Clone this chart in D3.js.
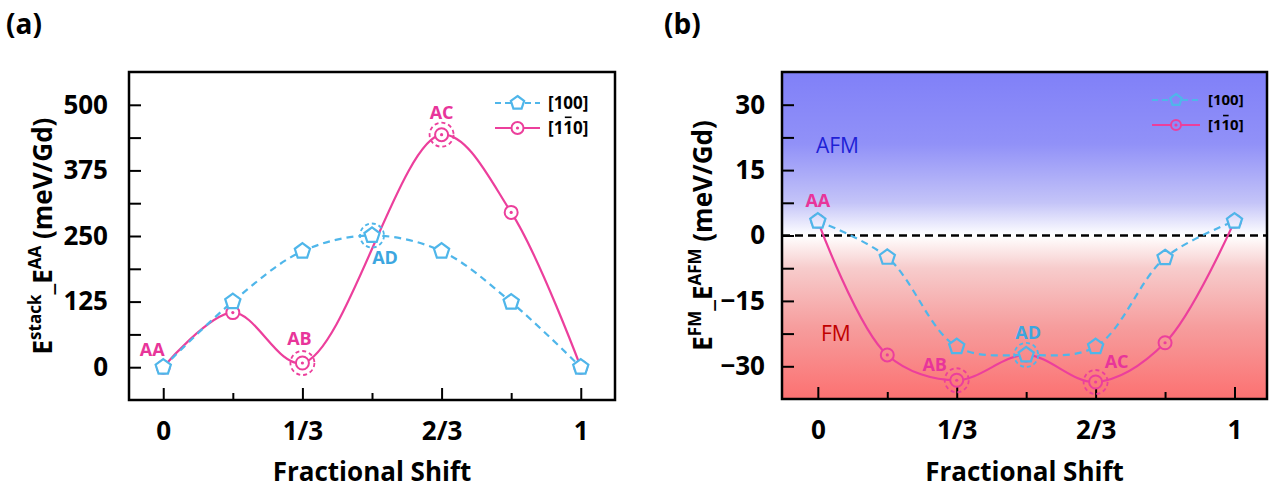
<!DOCTYPE html>
<html>
<head>
<meta charset="utf-8">
<script src="https://cdn.jsdelivr.net/npm/d3@7"></script>
<style>
  body { margin: 0; background: #fff; }
  svg { display: block; font-family: "Open Sans", sans-serif; }
</style>
</head>
<body>
<svg id="chart" width="1274" height="488"></svg>
<script>
// fractional shift positions and tick labels
const fracs = [0, 1/6, 1/3, 1/2, 2/3, 5/6, 1];
const xTickVals = [0, 1/3, 2/3, 1];
const xTickLabels = ["0", "1/3", "2/3", "1"];
const xMinorVals = [1/6, 1/2, 5/6];

// (a) stacking energy, meV/Gd  (no [1-10] point at 1/2)
const stack100 = [0, 125, 221, 251, 221, 124, 0];
const stack1m10 = [0, 104, 8, null, 443, 295, 0];
const stackTicks = [0, 125, 250, 375, 500];

// (b) E_FM - E_AFM, meV/Gd
const mag100 = [3.3, -5, -25.5, -27.4, -25.5, -5.1, 3.3];
const mag1m10 = [3.3, -27.4, -33.2, -27.4, -33.6, -24.6, 3.3];
const magTicks = [30, 15, 0, -15, -30];

const seriesNames = ["[100]", "[110]"]; // middle "1" of the second one gets a bar

const BLUE = "#4fb6ea", PINK = "#ec3f9c", PINK_TXT = "#e8359a", BLUE_TXT = "#3ca6e0";

const svg = d3.select("#chart");
const defs = svg.append("defs");

const grad = defs.append("linearGradient").attr("id", "bgGrad")
  .attr("gradientUnits", "userSpaceOnUse")
  .attr("x1", 0).attr("x2", 0).attr("y1", 72).attr("y2", 399);
[["0%", "#8080f8"], ["22%", "#9191f8"], ["40%", "#c4c4f8"], ["50%", "#ffffff"],
 ["60%", "#f7cccc"], ["78%", "#f69d9d"], ["100%", "#fc7171"]]
  .forEach(s => grad.append("stop").attr("offset", s[0]).attr("stop-color", s[1]));

// pentagon in absolute coords so a userSpace gradient fill lines up
function pentagon(cx, cy, r) {
  const pts = d3.range(5).map(k => {
    const a = -Math.PI / 2 + k * 2 * Math.PI / 5;
    return [cx + r * Math.cos(a), cy + r * Math.sin(a)];
  });
  return "M" + pts.join("L") + "Z";
}

function drawMarker(g, kind, x, y, fill, r) {
  if (kind === "pent") {
    g.append("path").attr("d", pentagon(x, y, r || 8))
      .attr("fill", fill).attr("stroke", BLUE).attr("stroke-width", 2.2);
  } else {
    g.append("circle").attr("cx", x).attr("cy", y).attr("r", r || 6.5)
      .attr("fill", fill).attr("stroke", PINK).attr("stroke-width", 2);
    g.append("circle").attr("cx", x).attr("cy", y).attr("r", 1.6).attr("fill", PINK);
  }
}

function panel(opt) {
  const g = svg.append("g");
  const x = d3.scaleLinear().domain(opt.xDomain).range([opt.x0, opt.x1]);
  const y = d3.scaleLinear().domain(opt.yDomain).range([opt.y1, opt.y0]);

  g.append("rect").attr("x", opt.x0).attr("y", opt.y0)
    .attr("width", opt.x1 - opt.x0).attr("height", opt.y1 - opt.y0)
    .attr("fill", opt.bg);

  if (opt.zeroLine) {
    g.append("line").attr("x1", opt.x0).attr("x2", opt.x1)
      .attr("y1", y(0)).attr("y2", y(0))
      .attr("stroke", "#000").attr("stroke-width", 2.5).attr("stroke-dasharray", "8,5");
  }

  opt.regionText.forEach(t => {
    g.append("text").attr("x", t.x).attr("y", y(t.v)).attr("dy", "0.35em")
      .attr("font-size", 21).attr("fill", t.color).text(t.text);
  });

  // axes
  const yMinor = d3.range(opt.yDomain[0], opt.yDomain[1] + 1e-9, opt.yStep / 2)
    .filter(v => v > opt.yDomain[0] + 1e-6 && v < opt.yDomain[1] - 1e-6);
  const ya = g.append("g").attr("transform", `translate(${opt.x0},0)`)
    .call(d3.axisLeft(y).tickValues(yMinor).tickSize(-12).tickFormat(""));
  ya.select(".domain").remove();
  ya.selectAll("line").attr("stroke-width", 2);
  const yl = g.append("g").attr("transform", `translate(${opt.x0},0)`)
    .call(d3.axisLeft(y).tickValues(opt.yTicks).tickSize(0).tickPadding(opt.yPad).tickFormat(d3.format("d")));
  yl.select(".domain").remove();
  yl.selectAll("text").attr("font-size", 26).attr("font-weight", "bold").attr("fill", "#000")
    .attr("font-family", "Open Sans");

  const xa = g.append("g").attr("transform", `translate(0,${opt.y1})`)
    .call(d3.axisBottom(x).tickValues(xTickVals).tickSize(-12).tickPadding(22)
      .tickFormat((d, i) => xTickLabels[i]));
  xa.select(".domain").remove();
  xa.selectAll("line").attr("stroke-width", 2);
  xa.selectAll("text").attr("font-size", 26).attr("font-weight", "bold").attr("fill", "#000")
    .attr("font-family", "Open Sans");
  const xm = g.append("g").attr("transform", `translate(0,${opt.y1})`)
    .call(d3.axisBottom(x).tickValues(xMinorVals).tickSize(-7).tickFormat(""));
  xm.select(".domain").remove();
  xm.selectAll("line").attr("stroke-width", 2);

  // curves
  const line = d3.line().x(d => x(d.f)).y(d => y(d.v)).curve(d3.curveCatmullRom.alpha(0.5));
  const pts = arr => fracs.map((f, i) => ({ f: f, v: arr[i] })).filter(d => d.v != null);
  const pinkPts = pts(opt.pink), bluePts = pts(opt.blue);

  g.append("path").attr("d", line(pinkPts)).attr("fill", "none")
    .attr("stroke", PINK).attr("stroke-width", 2.2);
  g.append("path").attr("d", line(bluePts)).attr("fill", "none")
    .attr("stroke", BLUE).attr("stroke-width", 2.2).attr("stroke-dasharray", "7,5");

  pinkPts.forEach(d => drawMarker(g, "circ", x(d.f), y(d.v), opt.markerFill));
  bluePts.forEach(d => drawMarker(g, "pent", x(d.f), y(d.v), opt.markerFill));

  // highlighted sites
  opt.sites.forEach(s => {
    const arr = s.blue ? opt.blue : opt.pink;
    const px = x(fracs[s.i]), py = y(arr[s.i]);
    if (s.ring) {
      g.append("circle").attr("cx", px).attr("cy", py).attr("r", 12)
        .attr("fill", "none").attr("stroke", s.blue ? BLUE : PINK)
        .attr("stroke-width", 1.8).attr("stroke-dasharray", "4,3");
    }
    g.append("text").attr("x", px + s.dx).attr("y", py + s.dy).attr("dy", "0.35em")
      .attr("text-anchor", "middle").attr("font-size", 18).attr("font-weight", "bold")
      .attr("fill", s.blue ? BLUE_TXT : PINK_TXT).text(s.name);
  });

  g.append("rect").attr("x", opt.x0).attr("y", opt.y0)
    .attr("width", opt.x1 - opt.x0).attr("height", opt.y1 - opt.y0)
    .attr("fill", "none").attr("stroke", "#000").attr("stroke-width", 2.5);

  // legend
  const L = opt.legend;
  seriesNames.forEach((name, k) => {
    const ly = L.y + k * L.gap;
    const isBlue = k === 0;
    g.append("line").attr("x1", L.x).attr("x2", L.x + L.len).attr("y1", ly).attr("y2", ly)
      .attr("stroke", isBlue ? BLUE : PINK).attr("stroke-width", 2.2)
      .attr("stroke-dasharray", isBlue ? "6,4" : null);
    drawMarker(g, isBlue ? "pent" : "circ", L.x + L.len / 2, ly, opt.markerFill, isBlue ? L.r + 1 : L.r);
    const t = g.append("text").attr("x", L.x + L.len + 8).attr("y", ly).attr("dy", "0.35em")
      .attr("font-size", L.fs).attr("font-weight", "bold").attr("fill", "#000").text(name);
    if (k === 1) {
      const ext = t.node().getExtentOfChar(2);
      const base = ly + 0.35 * L.fs;
      g.append("line").attr("x1", ext.x + 1.5).attr("x2", ext.x + ext.width - 1.5)
        .attr("y1", base - 0.98 * L.fs).attr("y2", base - 0.98 * L.fs)
        .attr("stroke", "#000").attr("stroke-width", 1.6);
    }
  });

  // axis titles
  g.append("text").attr("x", (opt.x0 + opt.x1) / 2).attr("y", 481)
    .attr("text-anchor", "middle").attr("font-size", 26).attr("font-weight", "bold")
    .text("Fractional Shift");

  const yt = g.append("text").attr("transform", `translate(${opt.titleX},${(opt.y0 + opt.y1) / 2}) rotate(-90)`)
    .attr("text-anchor", "middle").attr("font-size", 26).attr("font-weight", "bold");
  yt.append("tspan").text("E");
  yt.append("tspan").attr("font-size", 17).attr("dy", -11).text(opt.sup1);
  yt.append("tspan").attr("dy", 11).text("_E");
  yt.append("tspan").attr("font-size", 17).attr("dy", -11).text(opt.sup2);
  yt.append("tspan").attr("dy", 11).text(" (meV/Gd)");

  g.append("text").attr("x", opt.labelX).attr("y", 34)
    .attr("font-size", 28).attr("font-weight", "bold").text(opt.label);
}

panel({
  x0: 129, x1: 615, y0: 72, y1: 400,
  xDomain: [-0.082, 1.082], yDomain: [-62.5, 562.5], yStep: 125,
  yTicks: stackTicks, yPad: 21,
  pink: stack1m10, blue: stack100,
  bg: "#fff", markerFill: "#fff", zeroLine: false, regionText: [],
  sites: [
    { name: "AA", i: 0, blue: false, ring: false, dx: -11, dy: -18 },
    { name: "AB", i: 2, blue: false, ring: true, dx: -3, dy: -24 },
    { name: "AD", i: 3, blue: true, ring: true, dx: 13, dy: 22 },
    { name: "AC", i: 4, blue: false, ring: true, dx: 0, dy: -22 }
  ],
  legend: { x: 495, y: 103, gap: 25, len: 45, r: 6, fs: 17 },
  titleX: 52, sup1: "stack", sup2: "AA", label: "(a)", labelX: 6
});

panel({
  x0: 782, x1: 1267, y0: 72, y1: 399,
  xDomain: [-0.086, 1.078], yDomain: [-37.5, 37.5], yStep: 15,
  yTicks: magTicks, yPad: 17,
  pink: mag1m10, blue: mag100,
  bg: "url(#bgGrad)", markerFill: "url(#bgGrad)", zeroLine: true,
  regionText: [
    { text: "AFM", x: 816, v: 20.5, color: "#1f1fd6" },
    { text: "FM", x: 821, v: -22.5, color: "#c00000" }
  ],
  sites: [
    { name: "AA", i: 0, blue: false, ring: false, dx: 0, dy: -20 },
    { name: "AB", i: 2, blue: false, ring: true, dx: -22, dy: -16 },
    { name: "AD", i: 3, blue: true, ring: true, dx: 2, dy: -22 },
    { name: "AC", i: 4, blue: false, ring: true, dx: 21, dy: -20 }
  ],
  legend: { x: 1152, y: 100, gap: 25, len: 48, r: 5, fs: 15 },
  titleX: 712, sup1: "FM", sup2: "AFM", label: "(b)", labelX: 664
});
</script>
</body>
</html>
